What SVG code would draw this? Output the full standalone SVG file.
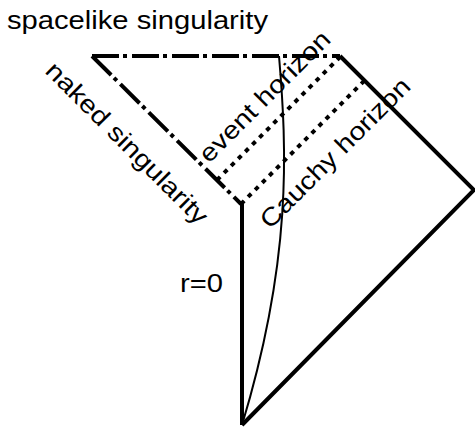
<svg xmlns="http://www.w3.org/2000/svg" width="475" height="427" viewBox="0 0 475 427">
  <style>
    .lbl { font-family: "Liberation Sans", Arial, sans-serif; font-size: 25px; fill: #000; }
    .solid { fill: none; stroke: #000; stroke-width: 4; stroke-linejoin: miter; }
    .dashdot { fill: none; stroke: #000; stroke-width: 4; stroke-dasharray: 27 4 4 5; }
    .dotted { fill: none; stroke: #000; stroke-width: 4; stroke-dasharray: 4.5 5.5; }
    .thin { fill: none; stroke: #000; stroke-width: 2; }
  </style>
  <rect width="475" height="427" fill="#fff"/>
  <g id="connectors">
    <path id="spacelike-singularity" class="dashdot" d="M92,56 L340,56"/>
    <path id="naked-singularity" class="dashdot" d="M92,56 L241,204"/>
    <path id="event-horizon" class="dotted" d="M217,180 L340,57"/>
    <path id="cauchy-horizon" class="dotted" d="M241,204 L365,80"/>
    <path id="outer-boundary" class="solid" d="M340,56 L474,190 L242,425"/>
    <path id="r0" class="solid" d="M242,204 L242,425"/>
    <path id="worldline" class="thin" d="M279,56 C287,150 292,260 242,425"/>
  </g>
  <g id="labels">
    <text class="lbl" x="7" y="29" textLength="261" lengthAdjust="spacingAndGlyphs">spacelike singularity</text>
    <text class="lbl" x="180" y="292" textLength="43" lengthAdjust="spacingAndGlyphs">r=0</text>
    <text class="lbl" transform="translate(44,72) rotate(45)" textLength="218" lengthAdjust="spacingAndGlyphs">naked singularity</text>
    <text class="lbl" transform="translate(209,164) rotate(-45)" textLength="174" lengthAdjust="spacingAndGlyphs">event horizon</text>
    <text class="lbl" transform="translate(270,230) rotate(-45)" textLength="201" lengthAdjust="spacingAndGlyphs">Cauchy horizon</text>
  </g>
</svg>
